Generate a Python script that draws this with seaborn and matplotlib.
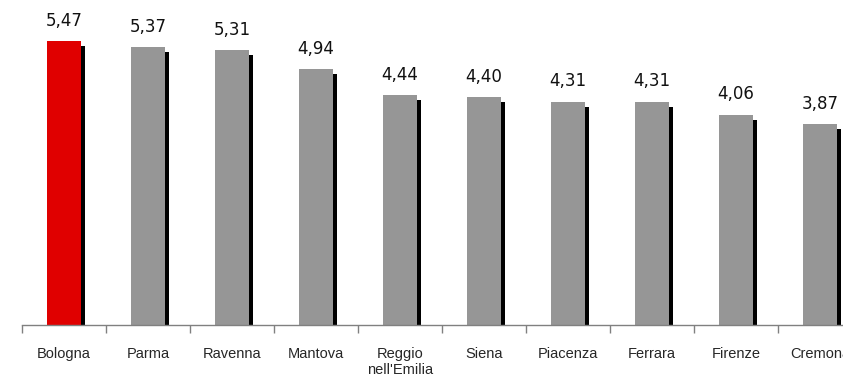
import matplotlib
matplotlib.use('Agg')
import matplotlib.pyplot as plt
import matplotlib.patheffects as pe
from matplotlib.ticker import FixedLocator
import seaborn as sns
import pandas as pd

cities = ['Bologna', 'Parma', 'Ravenna', 'Mantova', "Reggio\nnell'Emilia",
          'Siena', 'Piacenza', 'Ferrara', 'Firenze', 'Cremona']
values = [5.47, 5.37, 5.31, 4.94, 4.44, 4.40, 4.31, 4.31, 4.06, 3.87]
colors = ['#E00000'] + ['#969696'] * 9

df = pd.DataFrame({'city': cities, 'value': values})

sns.set_style('white')
plt.rcParams['font.family'] = ['Liberation Sans', 'DejaVu Sans']

fig = plt.figure(figsize=(8.43, 3.82), dpi=100)
ax = fig.add_axes([22 / 843, 57 / 382, 840 / 843, 311 / 382])

sns.barplot(data=df, x='city', y='value', hue='city', palette=colors,
            width=0.405, legend=False, ax=ax, saturation=1)

shadow = [pe.SimplePatchShadow(offset=(2.9, -3.6), shadow_rgbFace='black', alpha=1.0),
          pe.Normal()]
for bar in ax.patches:
    bar.set_path_effects(shadow)
    bar.set_linewidth(0)

for cont in ax.containers:
    ax.bar_label(cont, labels=[f'{v:.2f}'.replace('.', ',') for v in cont.datavalues],
                 padding=8, fontsize=12, family='DejaVu Sans', color='#111111')

ax.set_xlim(-0.5, 9.5)
ax.set_ylim(0, 6)
ax.set_xlabel('')
ax.set_ylabel('')
ax.set_yticks([])
for s in ['top', 'right', 'left']:
    ax.spines[s].set_visible(False)
ax.spines['bottom'].set_color('#808080')
ax.spines['bottom'].set_linewidth(1)

ax.xaxis.set_minor_locator(FixedLocator([i - 0.5 for i in range(11)]))
ax.tick_params(axis='x', which='major', length=0, pad=16, labelsize=10.5)
ax.tick_params(axis='x', which='minor', length=6, width=1, color='#808080',
               direction='out', bottom=True)

fig.savefig('out.png', dpi=100)
